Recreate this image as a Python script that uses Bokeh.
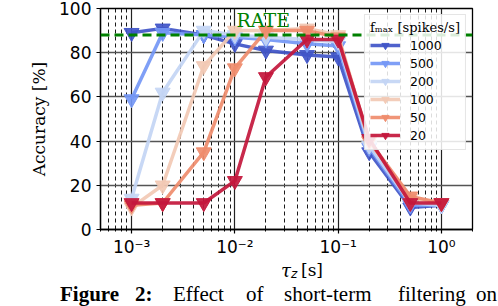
import math
from bokeh.plotting import figure
from bokeh.layouts import column
from bokeh.models import FixedTicker, CustomJSTickFormatter, Span, Label, Range1d, Div
from bokeh.embed import file_html
from bokeh.resources import INLINE

# ---- data ----
tau = [0.001, 0.002, 0.005, 0.01, 0.02, 0.05, 0.1, 0.2, 0.5, 1.0]
fmax_labels = ["1000", "500", "200", "100", "50", "20"]
acc_1000 = [89, 91, 88, 84, 81, 79, 78, 35, 10, 11]
acc_500 = [59, 89, 88, 87, 86, 84, 83, 37, 11, 11]
acc_200 = [14, 62, 90, 88, 87, 86, 85, 38, 12, 11]
acc_100 = [10, 20, 74, 90, 90, 91, 88, 40, 14, 12]
acc_50 = [11, 12, 35, 73, 90, 90, 87, 40, 15, 12]
acc_20 = [12, 12, 12, 22, 69, 86, 86, 41, 12, 12]
rate_acc = 88
y_ticks = [0, 20, 40, 60, 80, 100]
x_major = [1e-3, 1e-2, 1e-1, 1e0]

series = [acc_1000, acc_500, acc_200, acc_100, acc_50, acc_20]
colors = ["#4055c8", "#7497f5", "#c3d5f4", "#f2c9b4", "#ef8c6d", "#c3173c"]

XMIN, XMAX = 0.0005, 2.0
LEFT, FRAME_W, RIGHT = 100, 372, 26
TOP, FRAME_H, BOTTOM = 8, 221, 30
FRAME_L = LEFT
FRAME_B = TOP + FRAME_H


def px_x(px):
    lo, hi = math.log10(XMIN), math.log10(XMAX)
    return 10 ** (lo + (px - FRAME_L) * (hi - lo) / FRAME_W)


def px_y(py):
    return (FRAME_B - py) * 100.0 / FRAME_H


p = figure(x_axis_type="log", frame_width=FRAME_W, frame_height=FRAME_H,
           min_border_left=LEFT, min_border_right=RIGHT, min_border_top=TOP,
           min_border_bottom=BOTTOM, output_backend="svg", toolbar_location=None,
           x_range=Range1d(XMIN, XMAX), y_range=Range1d(0, 100), margin=(0, 0, 0, 0))
p.background_fill_color = "white"
p.border_fill_color = "white"
p.outline_line_color = "black"
p.outline_line_width = 1.3
p.outline_line_alpha = 1

minor = []
for d in [-4, -3, -2, -1, 0]:
    for m in range(2, 10):
        v = m * 10 ** d
        if XMIN <= v <= XMAX * 1.001:
            minor.append(v)

p.xaxis.ticker = FixedTicker(ticks=x_major, minor_ticks=minor)
p.xaxis.formatter = CustomJSTickFormatter(code="""
const sup = {"-":"\u207b","0":"\u2070","1":"\u00b9","2":"\u00b2","3":"\u00b3","4":"\u2074","5":"\u2075","6":"\u2076","7":"\u2077","8":"\u2078","9":"\u2079"};
const e = Math.round(Math.log10(tick));
return "10" + String(e).split("").map(c => sup[c]).join("");
""")
p.yaxis.ticker = FixedTicker(ticks=y_ticks, minor_ticks=[])

for ax in [p.xaxis[0], p.yaxis[0]]:
    ax.axis_line_color = "black"
    ax.axis_line_width = 1.3
    ax.major_tick_line_color = "black"
    ax.major_tick_line_width = 1.2
    ax.major_tick_in = 0
    ax.major_tick_out = 4
    ax.major_label_text_font = "DejaVu Sans"
    ax.major_label_text_font_size = "17px"
    ax.major_label_text_color = "black"
p.xaxis.minor_tick_line_color = "black"
p.xaxis.minor_tick_in = 0
p.xaxis.minor_tick_out = 2
p.xaxis.major_label_standoff = 3
p.yaxis.major_label_standoff = 5

p.yaxis.axis_label = "Accuracy [%]"
p.yaxis.axis_label_text_font = "DejaVu Serif"
p.yaxis.axis_label_text_font_style = "normal"
p.yaxis.axis_label_text_font_size = "17px"
p.yaxis.axis_label_text_color = "black"
p.yaxis.axis_label_standoff = 7

p.ygrid.grid_line_color = "#555555"
p.ygrid.grid_line_width = 1.3
p.xgrid.grid_line_color = "#222222"
p.xgrid.grid_line_width = 1.2
p.xgrid.minor_grid_line_color = "black"
p.xgrid.minor_grid_line_dash = "4 3"
p.xgrid.minor_grid_line_width = 0.9

for lab, ys, c in zip(fmax_labels, series, colors):
    p.line(tau, ys, line_color=c, line_width=3.5, line_alpha=0.92, legend_label=lab)
    p.scatter(tau, ys, marker="inverted_triangle", size=15, fill_color=c,
              line_color=c, fill_alpha=0.92, line_alpha=0.92, legend_label=lab)

# RATE reference line
p.add_layout(Span(location=rate_acc, dimension="width", line_color="#008000",
                  line_width=3, line_dash="9 5"))
p.add_layout(Label(x=px_x(236), y=px_y(8), text="RATE", text_color="#008000",
                   text_font="DejaVu Serif", text_font_size="19px",
                   text_baseline="top"))

lg = p.legend[0]
lg.location = "top_right"
lg.margin = 6
lg.padding = 5
lg.spacing = 0
lg.glyph_width = 30
lg.glyph_height = 18
lg.label_height = 18
lg.label_width = 50
lg.label_standoff = 10
lg.label_text_font = "DejaVu Sans"
lg.label_text_font_size = "12.5px"
lg.label_text_color = "black"
lg.title = "f\u2098\u2090\u2093 [spikes/s]"
lg.title_text_font = "DejaVu Serif"
lg.title_text_font_style = "normal"
lg.title_text_font_size = "13px"
lg.title_text_color = "black"
lg.title_standoff = 1
lg.border_line_color = "#cccccc"
lg.border_line_width = 1
lg.background_fill_alpha = 0.85

# ---- below the chart: x-axis label and caption fragment ----
div_h = 306 - (TOP + FRAME_H + BOTTOM)
caption_words = [("Figure", 60, "bold"), ("2:", 135, "bold"), ("Effect", 173, "normal"),
                 ("of", 246, "normal"), ("short-term", 284, "normal"),
                 ("filtering", 398, "normal"), ("on", 476, "normal")]
spans = []
spans.append('<span style="position:absolute;left:281px;top:3px;font-family:\'DejaVu Serif\';'
             'font-style:italic;font-size:18px;line-height:18px;">τ</span>')
spans.append('<span style="position:absolute;left:291px;top:10px;font-family:\'DejaVu Sans\';'
             'font-style:italic;font-size:12px;line-height:11px;">z</span>')
spans.append('<span style="position:absolute;left:301px;top:3px;font-family:\'DejaVu Serif\';'
             'font-size:17px;line-height:17px;">[s]</span>')
for w, xpx, st in caption_words:
    spans.append('<span style="position:absolute;left:%dpx;top:25px;font-family:\'Liberation Serif\';'
                 'font-weight:%s;font-size:21px;line-height:20px;white-space:nowrap;">%s</span>' % (xpx, st, w))
html = ('<div style="position:relative;width:498px;height:%dpx;overflow:hidden;color:black;">%s</div>'
        % (div_h, "".join(spans)))
div = Div(text=html, width=498, height=div_h, margin=(0, 0, 0, 0))

layout = column(p, div, spacing=0, margin=(0, 0, 0, 0))
open("out.html", "w").write(file_html(layout, INLINE))
